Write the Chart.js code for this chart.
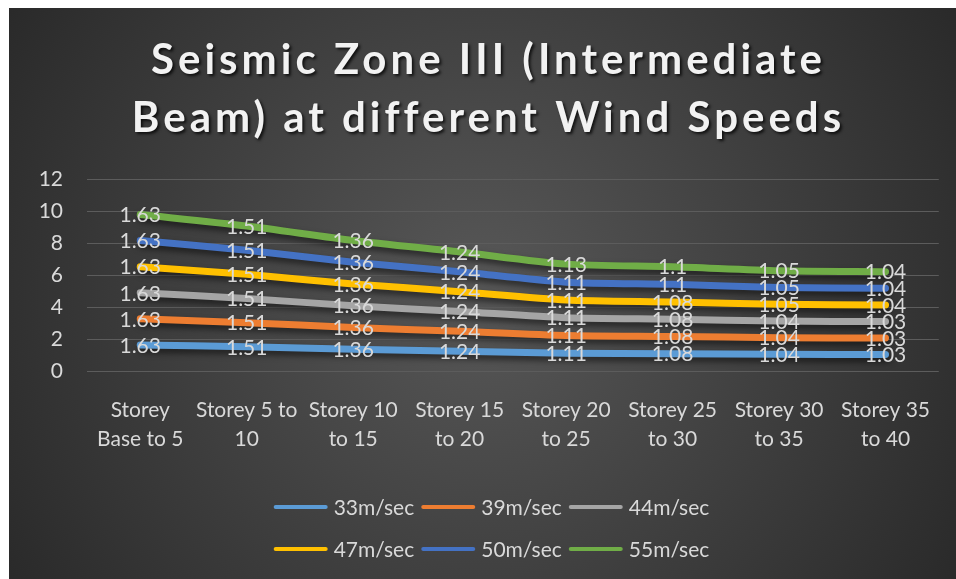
<!DOCTYPE html>
<html>
<head>
<meta charset="utf-8">
<script src="https://cdn.jsdelivr.net/npm/chart.js@4/dist/chart.umd.min.js"></script>
<style>
  html, body { margin: 0; padding: 0; background: #ffffff; }
  #wrap { position: absolute; left: 9px; top: 8px; width: 947px; height: 571px; }
</style>
</head>
<body>
<div id="wrap"><canvas id="c"></canvas></div>
<script>
// Storey ranges along the x axis
const categories = [
  ["Storey", "Base to 5"], ["Storey 5 to", "10"], ["Storey 10", "to 15"], ["Storey 15", "to 20"],
  ["Storey 20", "to 25"], ["Storey 25", "to 30"], ["Storey 30", "to 35"], ["Storey 35", "to 40"]
];
const seriesNames = ["33m/sec", "39m/sec", "44m/sec", "47m/sec", "50m/sec", "55m/sec"];
const seriesColors = ["#5b9bd5", "#ed7d31", "#a5a5a5", "#ffc000", "#4472c4", "#70ad47"];

// Ratio values per wind speed
const v33 = [1.63, 1.51, 1.36, 1.24, 1.11, 1.08, 1.04, 1.03];
const v39 = [1.63, 1.51, 1.36, 1.24, 1.11, 1.08, 1.04, 1.03];
const v44 = [1.63, 1.51, 1.36, 1.24, 1.11, 1.08, 1.04, 1.03];
const v47 = [1.63, 1.51, 1.36, 1.24, 1.11, 1.08, 1.05, 1.04];
const v50 = [1.63, 1.51, 1.36, 1.24, 1.11, 1.1, 1.05, 1.04];
const v55 = [1.63, 1.51, 1.36, 1.24, 1.13, 1.1, 1.05, 1.04];
const seriesValues = [v33, v39, v44, v47, v50, v55];

const yTicks = [0, 2, 4, 6, 8, 10, 12];
const titleLines = ["Seismic Zone III (Intermediate", "Beam) at different Wind Speeds"];

const FONT = "Lato, 'Open Sans', sans-serif";
const TEXT = "#d9d9d9";

// Dark radial backdrop
const backdrop = {
  id: "backdrop",
  beforeDraw(chart) {
    const { ctx, width, height } = chart;
    const g = ctx.createRadialGradient(width * 0.5, height * 0.5, 20, width * 0.5, height * 0.5, width * 0.62);
    g.addColorStop(0, "#565656");
    g.addColorStop(1, "#272727");
    ctx.save();
    ctx.fillStyle = g;
    ctx.fillRect(0, 0, width, height);
    ctx.restore();
  }
};

// Spaced, shadowed two-line heading
const heading = {
  id: "heading",
  afterDraw(chart) {
    const ctx = chart.ctx;
    const spacing = 4;
    const cx = chart.width / 2 + 4 + spacing / 2;
    const ys = [52, 110];
    ctx.save();
    ctx.font = "bold 42px " + FONT;
    ctx.letterSpacing = spacing + "px";
    ctx.textAlign = "center";
    ctx.textBaseline = "middle";
    ctx.shadowColor = "rgba(0,0,0,0.75)";
    ctx.shadowBlur = 3;
    ctx.shadowOffsetX = 2;
    ctx.shadowOffsetY = 2;
    ctx.fillStyle = "#f2f2f2";
    titleLines.forEach((t, i) => ctx.fillText(t, cx, ys[i]));
    ctx.restore();
  }
};

// Soft drop shadow under each line
const lineShadow = {
  id: "lineShadow",
  beforeDatasetDraw(chart) {
    const ctx = chart.ctx;
    ctx.save();
    ctx.shadowColor = "rgba(0,0,0,0.55)";
    ctx.shadowBlur = 6;
    ctx.shadowOffsetX = 2;
    ctx.shadowOffsetY = 4;
  },
  afterDatasetDraw(chart) {
    chart.ctx.restore();
  }
};

// Value labels centred on each point
const valueLabels = {
  id: "valueLabels",
  afterDatasetsDraw(chart) {
    const ctx = chart.ctx;
    ctx.save();
    ctx.font = "21px " + FONT;
    ctx.fillStyle = TEXT;
    ctx.textAlign = "center";
    ctx.textBaseline = "middle";
    chart.data.datasets.forEach((ds, i) => {
      const meta = chart.getDatasetMeta(i);
      meta.data.forEach((pt, j) => {
        ctx.fillText(String(ds.data[j]), pt.x, pt.y + 1);
      });
    });
    ctx.restore();
  }
};

// Two-row legend, three entries per row
const rowLegend = {
  id: "rowLegend",
  afterDraw(chart) {
    const ctx = chart.ctx;
    const ds = chart.data.datasets;
    const rows = [ds.slice(0, 3), ds.slice(3, 6)];
    const rowY = [499, 541];
    const lineLen = 54, gap = 6, itemGap = 7;
    const cx = chart.width / 2 + 9;
    ctx.save();
    ctx.font = "21px " + FONT;
    ctx.textBaseline = "middle";
    rows.forEach((row, r) => {
      const widths = row.map(d => lineLen + gap + ctx.measureText(d.label).width);
      const total = widths.reduce((a, b) => a + b, 0) + itemGap * (row.length - 1);
      let x = cx - total / 2;
      const y = rowY[r];
      row.forEach((d, k) => {
        ctx.strokeStyle = d.borderColor;
        ctx.lineWidth = 4;
        ctx.lineCap = "round";
        ctx.beginPath();
        ctx.moveTo(x + 2, y);
        ctx.lineTo(x + lineLen - 2, y);
        ctx.stroke();
        ctx.fillStyle = TEXT;
        ctx.fillText(d.label, x + lineLen + gap, y + 1);
        x += widths[k] + itemGap;
      });
    });
    ctx.restore();
  }
};

new Chart(document.getElementById("c"), {
  type: "line",
  data: {
    labels: categories,
    datasets: seriesNames.map((name, i) => ({
      label: name,
      data: seriesValues[i],
      borderColor: seriesColors[i],
      backgroundColor: seriesColors[i],
      borderWidth: 7,
      borderCapStyle: "round",
      borderJoinStyle: "round",
      pointRadius: 0,
      tension: 0.25,
      fill: false
    }))
  },
  options: {
    responsive: true,
    maintainAspectRatio: false,
    animation: false,
    layout: { padding: { left: 0, right: 16, top: 171, bottom: 108 } },
    plugins: {
      legend: { display: false },
      tooltip: { enabled: false },
      title: { display: false }
    },
    scales: {
      x: {
        offset: true,
        grid: { display: false, drawTicks: false },
        border: { display: false },
        ticks: {
          color: TEXT,
          font: { family: FONT, size: 21, lineHeight: 1.38 },
          padding: 25,
          maxRotation: 0,
          autoSkip: false
        },
        afterFit(scale) { scale.height = 100; }
      },
      y: {
        stacked: true,
        min: 0,
        max: 12,
        afterBuildTicks(scale) { scale.ticks = yTicks.map(v => ({ value: v })); },
        grid: { color: "#5c5c5c", lineWidth: 1, drawTicks: false },
        border: { display: false },
        ticks: {
          color: TEXT,
          font: { family: FONT, size: 21 },
          padding: 24
        },
        afterFit(scale) { scale.width = 78; }
      }
    }
  },
  plugins: [backdrop, lineShadow, valueLabels, rowLegend, heading]
});
</script>
</body>
</html>
